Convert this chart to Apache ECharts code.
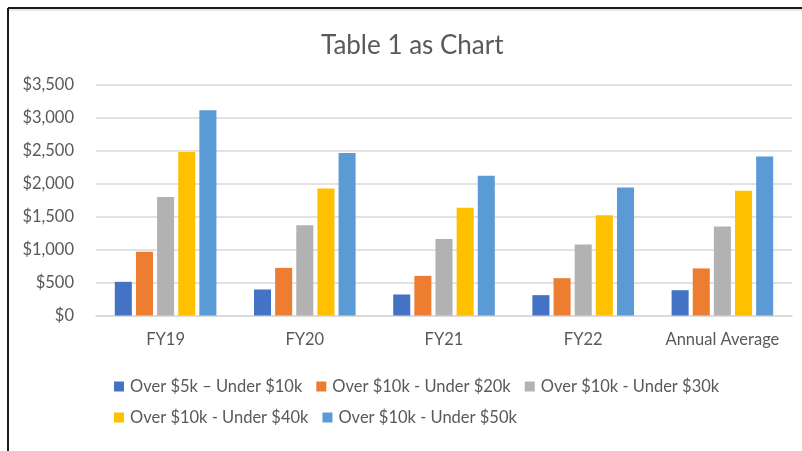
<!DOCTYPE html>
<html>
<head>
<meta charset="utf-8">
<script src="https://cdn.jsdelivr.net/npm/echarts@6/dist/echarts.min.js"></script>
<style>
  html, body { margin: 0; padding: 0; background: #fff; }
  #chart { width: 802px; height: 451px; }
</style>
</head>
<body>
<div id="chart"></div>
<script>
// data
const categories = ['FY19', 'FY20', 'FY21', 'FY22', 'Annual Average']
const seriesNames = [
  'Over $5k \u2013 Under $10k',
  'Over $10k - Under $20k',
  'Over $10k - Under $30k',
  'Over $10k - Under $40k',
  'Over $10k - Under $50k',
]
const under10k = [511, 395, 319, 309, 384]
const under20k = [967, 723, 602, 567, 715]
const under30k = [1798, 1372, 1160, 1079, 1352]
const under40k = [2482, 1930, 1635, 1524, 1893]
const under50k = [3116, 2467, 2122, 1945, 2413]
const yTicks = { min: 0, max: 3500, interval: 500 }

const colors = ['#4472C4', '#ED7D31', '#B2B2B2', '#FFC000', '#5B9BD5']
const values = [under10k, under20k, under30k, under40k, under50k]
const font = 'Lato, "Open Sans", sans-serif'

const chart = echarts.init(document.getElementById('chart'), null, { renderer: 'canvas' })

chart.setOption({
  animation: false,
  backgroundColor: '#fff',
  color: colors,
  textStyle: { fontFamily: font, color: '#595959' },
  title: {
    text: 'Table 1 as Chart',
    left: 316, top: 28,
    textStyle: { fontFamily: font, fontSize: 26, fontWeight: 'normal', color: '#595959' },
  },
  grid: { left: 96, right: 10, top: 85, bottom: 135.5 },
  xAxis: {
    type: 'category', data: categories,
    axisLine: { lineStyle: { color: '#d9d9d9', width: 1.5 } },
    axisTick: { show: false },
    axisLabel: { color: '#595959', fontSize: 16.5, fontFamily: font, margin: 16, interval: 0 },
  },
  yAxis: {
    type: 'value', min: yTicks.min, max: yTicks.max, interval: yTicks.interval,
    axisLine: { show: false }, axisTick: { show: false },
    axisLabel: {
      color: '#595959', fontSize: 16.5, fontFamily: font, margin: 22,
      formatter: v => '$' + v.toLocaleString('en-US'),
    },
    splitLine: { lineStyle: { color: '#d9d9d9', width: 1.5 } },
  },
  legend: {
    left: 109, top: 373, width: 650,
    itemWidth: 10, itemHeight: 10, itemGap: 14,
    icon: 'rect',
    textStyle: { color: '#595959', fontSize: 16.5, fontFamily: font, padding: [0, 0, 0, 1] },
    data: seriesNames,
  },
  series: seriesNames.map((name, i) => ({
    name, type: 'bar',
    data: values[i],
    barGap: '24%', barCategoryGap: '27%',
    itemStyle: { color: colors[i] },
  })),
  graphic: [
    { type: 'line', shape: { x1: 8, y1: 8, x2: 802, y2: 8 }, style: { stroke: '#1a1a1a', lineWidth: 2 } },
    { type: 'line', shape: { x1: 8, y1: 8, x2: 8, y2: 451 }, style: { stroke: '#1a1a1a', lineWidth: 2 } },
    { type: 'line', shape: { x1: 9, y1: 10, x2: 802, y2: 10 }, style: { stroke: '#d0d0d0', lineWidth: 1 } },
  ],
})
</script>
</body>
</html>
